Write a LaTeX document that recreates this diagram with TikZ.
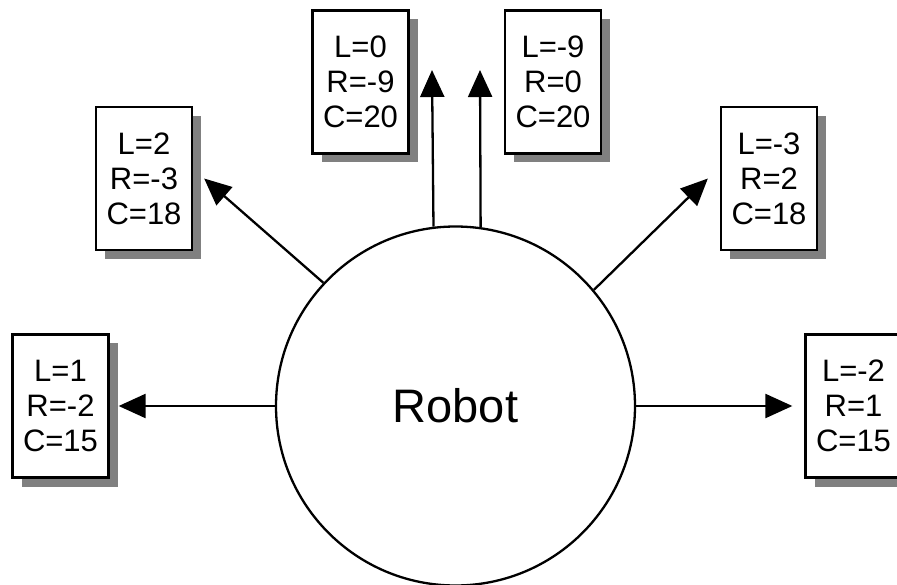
\documentclass[tikz,border=0pt]{standalone}
\usepackage{fontspec}
\setmainfont{Liberation Sans}
\usetikzlibrary{calc, positioning, arrows.meta, shadows}
\definecolor{xshadow}{HTML}{808080}
\tikzset{
  robot/.style = {circle, draw, line width=2.3pt, minimum size=359pt, inner sep=0pt, font=\fontsize{47}{50}\selectfont},
  reading/.style = {rectangle, draw, line width=2.3pt, fill=white, minimum width=96pt, minimum height=143pt, inner sep=0pt, align=center, font=\fontsize{31}{35}\selectfont, drop shadow={shadow xshift=9pt, shadow yshift=-9pt, fill=xshadow, opacity=1}},
  ray/.style = {line width=2.3pt, -{Triangle[length=27pt, width=24pt]}},
}

\begin{document}
\begin{tikzpicture}[x=1pt, y=-1pt]
      \useasboundingbox (0,0) rectangle (897,585);
      \node[robot] (robot) at (455.5,406) {Robot};

      \node[reading] (bl) at (60.5,406) {L=1\\R=-2\\C=15};
      \node[reading] (ml) at (144,178.5) {L=2\\R=-3\\C=18};
      \node[reading] (tl) at (360.5,82) {L=0\\R=-9\\C=20};
      \node[reading] (tr) at (553,82) {L=-9\\R=0\\C=20};
      \node[reading] (mr) at (769,178.5) {L=-3\\R=2\\C=18};
      \node[reading] (br) at (853.5,406) {L=-2\\R=1\\C=15};

      \coordinate (upl) at (432,70);
      \coordinate (upr) at (480,70);

      \draw[ray] (robot.west) -- ([xshift=9pt]bl.east);
      \draw[ray] (robot.137.5) -- ([xshift=11pt]ml.east);
      \draw[ray] (robot.97.5) -- (upl);
      \draw[ray] (robot.82.2) -- (upr);
      \draw[ray] (robot.40) -- ([xshift=-12pt]mr.west);
      \draw[ray] (robot.east) -- ([xshift=-12pt]br.west);
    \end{tikzpicture}
\end{document}
